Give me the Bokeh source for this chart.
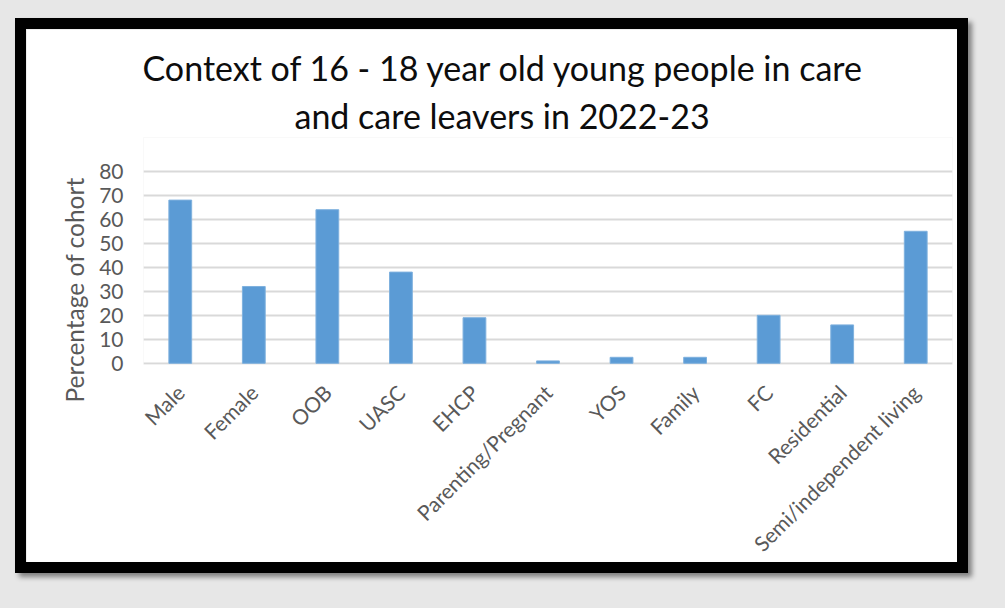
import math

from bokeh.embed import file_html
from bokeh.layouts import column
from bokeh.models import FactorRange, FixedTicker, Range1d, Title
from bokeh.plotting import figure
from bokeh.resources import INLINE

# Share of the 16-18 cohort (in care and care leavers), 2022-23
categories = [
    "Male", "Female", "OOB", "UASC", "EHCP", "Parenting/Pregnant",
    "YOS", "Family", "FC", "Residential", "Semi/independent living",
]
percentages = [68, 32, 64, 38, 19, 1, 2.5, 2.5, 20, 16, 55]
y_ticks = [0, 10, 20, 30, 40, 50, 60, 70, 80]
title_lines = [
    "Context of 16 - 18 year old young people in care",
    "and care leavers in 2022-23",
]
y_label = "Percentage of cohort"

FONT = "Lato"
GREY_TEXT = "#595959"
GRID = "#d9d9d9"
BAR = "#5b9bd5"

# the frame reaches above the 80 gridline so the title sits well clear of it
p = figure(
    width=953, height=555,
    x_range=FactorRange(*categories),
    y_range=Range1d(-0.5, 94.08),
    output_backend="svg", toolbar_location=None,
    min_border_left=117, min_border_right=27,
    min_border_top=108, min_border_bottom=220,
)
p.outline_line_color = None
p.background_fill_color = "white"
p.border_fill_color = "white"

p.vbar(x=categories, top=percentages, width=0.31,
       fill_color=BAR, line_color="#7fb1de", line_width=1)

# grid
p.xgrid.grid_line_color = None
p.ygrid.ticker = FixedTicker(ticks=y_ticks)
p.ygrid.grid_line_color = GRID
p.ygrid.grid_line_width = 2

# y axis
p.yaxis.ticker = FixedTicker(ticks=y_ticks)
p.yaxis.axis_line_color = None
p.yaxis.major_tick_line_color = None
p.yaxis.minor_tick_line_color = None
p.yaxis.major_tick_out = 0
p.yaxis.major_tick_in = 0
p.yaxis.major_label_standoff = 20
p.yaxis.major_label_text_font = FONT
p.yaxis.major_label_text_font_size = "21px"
p.yaxis.major_label_text_color = GREY_TEXT

# x axis
p.xaxis.axis_line_color = None
p.xaxis.major_tick_line_color = None
p.xaxis.major_tick_out = 0
p.xaxis.major_tick_in = 0
p.xaxis.major_label_orientation = math.pi / 4
p.xaxis.major_label_standoff = 24
p.xaxis.major_label_text_font = FONT
p.xaxis.major_label_text_font_size = "21px"
p.xaxis.major_label_text_color = GREY_TEXT

# axis title on the left, set a little below the frame's centre
p.add_layout(Title(
    text=y_label, align="left", offset=-38, standoff=16,
    text_font=FONT, text_font_size="24.5px", text_font_style="normal",
    text_color=GREY_TEXT,
), "left")

# two-line chart title: second line sits nearer the frame
for text, off, standoff in [(title_lines[1], 151, 4), (title_lines[0], -1, 6)]:
    p.add_layout(Title(
        text=text, align="left", offset=off, standoff=standoff,
        text_font=FONT, text_font_size="34px", text_font_style="normal",
        text_color="#0d0d0d",
    ), "above")

p.styles = {
    "border": "11px solid #000000",
    "box-shadow": "4px 4px 5px rgba(0, 0, 0, 0.45)",
}

page = column(p, styles={
    "background-color": "#e7e7e7",
    "padding": "18px 0px 0px 15px",
    "width": "1005px",
    "height": "608px",
    "box-sizing": "border-box",
})

open("out.html", "w").write(file_html(page, INLINE))
